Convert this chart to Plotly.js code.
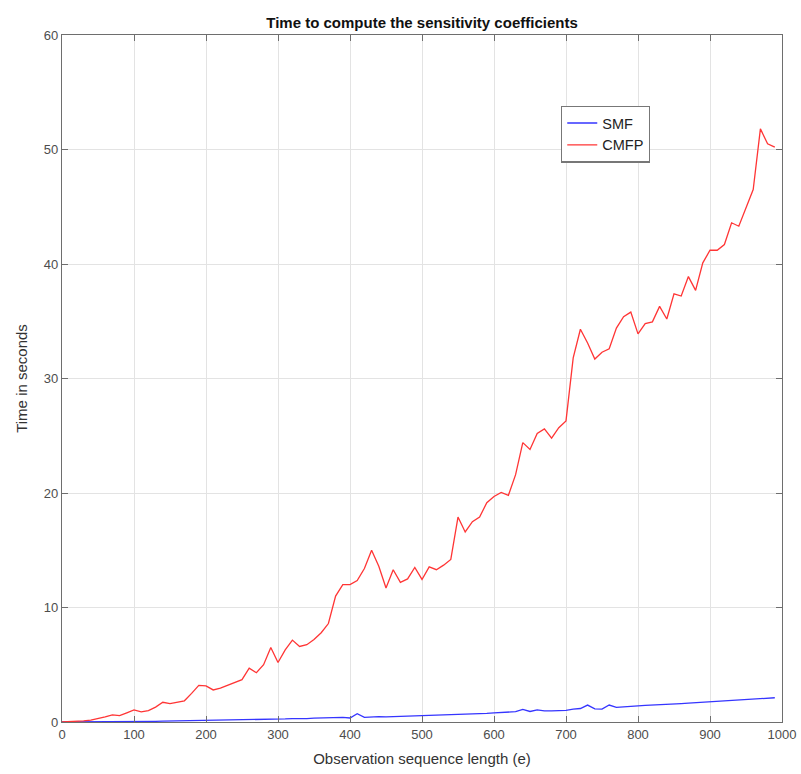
<!DOCTYPE html>
<html>
<head>
<meta charset="utf-8">
<script src="https://cdn.plot.ly/plotly-3.0.1.min.js"></script>
<style>html,body{margin:0;padding:0;background:#fff;}#chart{width:801px;height:774px;}</style>
</head>
<body>
<div id="chart"></div>
<script>
const seqLength = [];
for (let i = 0; i < 100; i++) seqLength.push(i * 10);

const smfTime = [
  0, 0.0, 0.01, 0.01, 0.02, 0.02, 0.03, 0.03, 0.04, 0.04,
  0.05, 0.05, 0.06, 0.06, 0.07, 0.08, 0.08, 0.09, 0.1, 0.11,
  0.12, 0.12, 0.13, 0.14, 0.15, 0.16, 0.17, 0.18, 0.2, 0.24,
  0.22, 0.27, 0.3, 0.28, 0.3, 0.33, 0.35, 0.38, 0.42, 0.40,
  0.35, 0.72, 0.4, 0.45, 0.47, 0.45, 0.47, 0.46, 0.48, 0.5,
  0.52, 0.6, 0.57, 0.6, 0.63, 0.66, 0.68, 0.7, 0.73, 0.76,
  0.8, 0.82, 0.85, 0.9, 1.1, 0.92, 1.05, 0.97, 0.98, 1.0,
  1.02, 1.12, 1.18, 1.48, 1.15, 1.12, 1.48, 1.28, 1.3, 1.32,
  1.4, 1.45, 1.47, 1.5, 1.53, 1.55, 1.6, 1.64, 1.68, 1.72,
  1.76, 1.8, 1.84, 1.88, 1.92, 1.96, 2.0, 2.04, 2.08, 2.12
];

const cmfpTime = [
  0, 0.02, 0.05, 0.1, 0.17, 0.28, 0.45, 0.62, 0.55, 0.8,
  1.05, 0.88, 1.0, 1.3, 1.72, 1.6, 1.7, 1.85, 2.5, 3.2,
  3.15, 2.8, 2.95, 3.2, 3.45, 3.7, 4.7, 4.3, 5.0, 6.5,
  5.2, 6.3, 7.15, 6.6, 6.75, 7.2, 7.8, 8.6, 11.0, 12.0,
  12.0, 12.35, 13.4, 15.0, 13.6, 11.7, 13.3, 12.2, 12.5, 13.5,
  12.45, 13.55, 13.3, 13.7, 14.2, 17.9, 16.6, 17.5, 17.9, 19.15,
  19.7, 20.05, 19.8, 21.6, 24.4, 23.8, 25.2, 25.6, 24.8, 25.7,
  26.3, 31.8, 34.3, 33.1, 31.7, 32.3, 32.6, 34.4, 35.4, 35.8,
  33.9, 34.8, 34.95, 36.3, 35.2, 37.4, 37.2, 38.9, 37.7, 40.1,
  41.2, 41.2, 41.7, 43.6, 43.3, 44.9, 46.5, 51.8, 50.5, 50.2
];

const seriesNames = ["SMF", "CMFP"];
const xTicks = [0, 100, 200, 300, 400, 500, 600, 700, 800, 900, 1000];
const yTicks = [0, 10, 20, 30, 40, 50, 60];

const traces = [
  {x: seqLength, y: smfTime, name: seriesNames[0], type: "scatter", mode: "lines",
   line: {color: "#3535ff", width: 1.3}},
  {x: seqLength, y: cmfpTime, name: seriesNames[1], type: "scatter", mode: "lines",
   line: {color: "#ff3535", width: 1.3}}
];

const axisCommon = {
  showgrid: true, gridcolor: "#e3e3e3", gridwidth: 1,
  zeroline: false, showline: true, linecolor: "#6e6e6e", linewidth: 1.2,
  mirror: "ticks", ticks: "inside", ticklen: 6, tickcolor: "#6e6e6e",
  tickfont: {family: "Liberation Sans, Arial, sans-serif", size: 13, color: "#4d4d4d"}
};

const layout = {
  width: 801, height: 774,
  margin: {l: 62, r: 19, t: 35, b: 52},
  paper_bgcolor: "#ffffff", plot_bgcolor: "#ffffff",
  showlegend: true,
  title: {text: "<b>Time to compute the sensitivity coefficients</b>",
          font: {family: "Liberation Sans, Arial, sans-serif", size: 15, color: "#111"},
          x: 0.5, xref: "paper", y: 0.978, yref: "container"},
  xaxis: Object.assign({}, axisCommon, {
    range: [0, 1000], tickvals: xTicks, ticktext: xTicks.map(String),
    title: {text: "Observation sequence length (e)", standoff: 12,
            font: {family: "Liberation Sans, Arial, sans-serif", size: 15, color: "#333"}}
  }),
  yaxis: Object.assign({}, axisCommon, {
    range: [0, 60], tickvals: yTicks, ticktext: yTicks.map(String),
    title: {text: "Time in seconds", standoff: 12,
            font: {family: "Liberation Sans, Arial, sans-serif", size: 15, color: "#333"}}
  }),
  legend: {x: 0.693, y: 0.897, xanchor: "left", yanchor: "top",
           bgcolor: "#ffffff", bordercolor: "#777", borderwidth: 1.3,
           font: {family: "Liberation Sans, Arial, sans-serif", size: 14.5, color: "#222"},
           tracegroupgap: 0, itemwidth: 30}
};

Plotly.newPlot("chart", traces, layout, {displayModeBar: false, staticPlot: true});
</script>
</body>
</html>
